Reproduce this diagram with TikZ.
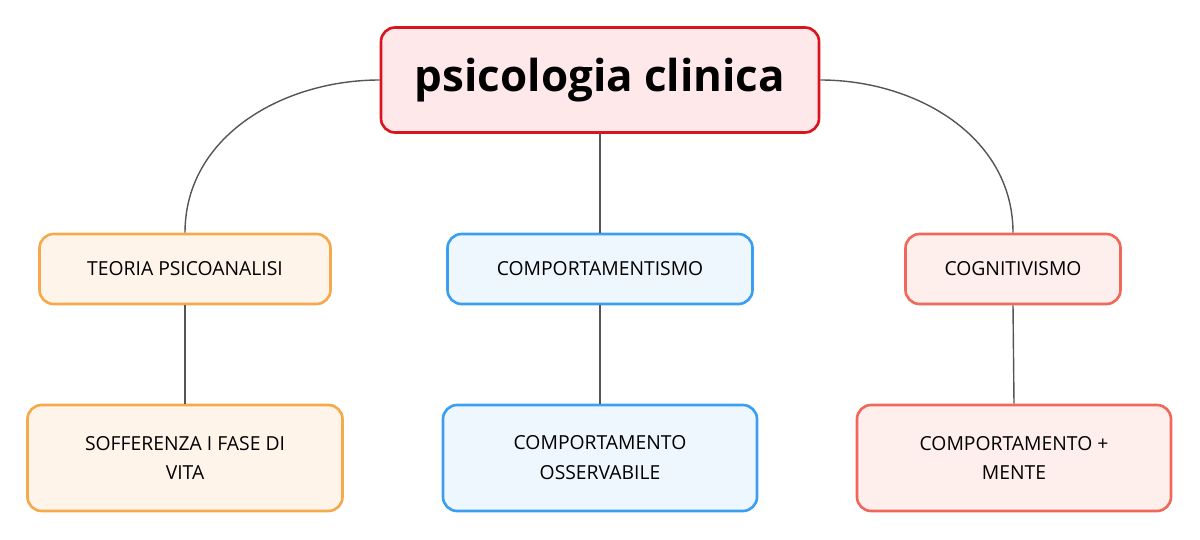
\documentclass[tikz,border=0pt]{standalone}
\usepackage{fontspec}
\setmainfont{Open Sans}
\definecolor{rootline}{HTML}{D9141E}
\definecolor{rootfill}{HTML}{FFE8EA}
\definecolor{orline}{HTML}{F5A94B}
\definecolor{orfill}{HTML}{FFF4EA}
\definecolor{blline}{HTML}{3A9FF0}
\definecolor{blfill}{HTML}{EEF6FE}
\definecolor{rdline}{HTML}{F0685A}
\definecolor{rdfill}{HTML}{FEEEEC}
\definecolor{linkgray}{HTML}{555555}
\begin{document}
\begin{tikzpicture}[x=0.02cm,y=-0.02cm]
	\tikzstyle{Box} = [rectangle, rounded corners=8pt, line width=1.5pt, text centered, align=center, font=\fontsize{11pt}{17pt}\selectfont]
	\tikzstyle{Root} = [Box, draw=rootline, fill=rootfill, minimum width=438*0.02cm, minimum height=105*0.02cm, font=\fontsize{25pt}{30pt}\selectfont\bfseries]
	\tikzstyle{Orange} = [Box, draw=orline, fill=orfill]
	\tikzstyle{Blue} = [Box, draw=blline, fill=blfill]
	\tikzstyle{Red} = [Box, draw=rdline, fill=rdfill]
	\tikzstyle{link} = [linkgray, line width=0.8pt]
	
	\useasboundingbox (0,0) rectangle (1200,540);
	\node (root) [Root] at (600,80) {psicologia clinica};
	\node (teoria) [Orange, minimum width=291*0.02cm, minimum height=70*0.02cm] at (185,269) {TEORIA PSICOANALISI};
	\node (comp) [Blue, minimum width=305*0.02cm, minimum height=70*0.02cm] at (600,269) {COMPORTAMENTISMO};
	\node (cogn) [Red, minimum width=215*0.02cm, minimum height=70*0.02cm] at (1013,269) {COGNITIVISMO};
	\node (soff) [Orange, minimum width=315*0.02cm, minimum height=106*0.02cm] at (185,458) {SOFFERENZA I FASE DI\\VITA};
	\node (oss) [Blue, minimum width=314*0.02cm, minimum height=106*0.02cm] at (600,458) {COMPORTAMENTO\\OSSERVABILE};
	\node (mente) [Red, minimum width=314*0.02cm, minimum height=106*0.02cm] at (1014,458) {COMPORTAMENTO +\\MENTE};
	
	\draw [link] (root.west) to[out=180, in=90] (teoria.north);
	\draw [link] (root.east) to[out=0, in=90] (cogn.north);
	\draw [link] (root.south) -- (comp.north);
	\draw [link] (teoria.south) -- (soff.north);
	\draw [link] (comp.south) -- (oss.north);
	\draw [link] (cogn.south) -- (mente.north);
\end{tikzpicture}
\end{document}
